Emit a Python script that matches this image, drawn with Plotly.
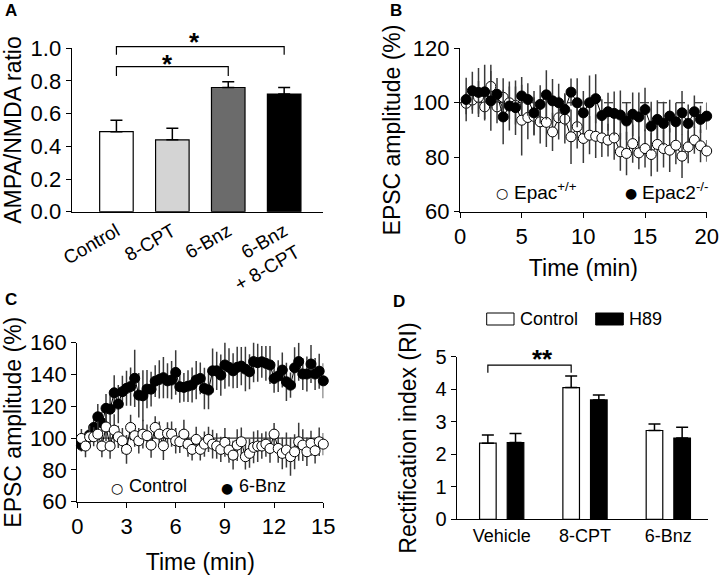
import plotly.graph_objects as go

FONT = "Liberation Sans, Arial, Helvetica, sans-serif"
GLYPH_FONT = "DejaVu Sans, Liberation Sans, sans-serif"

# ---------------- Panel A data ----------------
a_groups = ["Control", "8-CPT", "6-Bnz", "6-Bnz<br>+ 8-CPT"]
a_ratio = [0.49, 0.44, 0.76, 0.72]
a_sem = [0.07, 0.07, 0.035, 0.04]
a_colors = ["#ffffff", "#d4d4d4", "#6b6b6b", "#000000"]
a_yticks = [0.0, 0.2, 0.4, 0.6, 0.8, 1.0]

# ---------------- Panel B data ----------------
b_time = [0.5, 1.0, 1.5, 2.0, 2.5, 3.0, 3.5, 4.0, 4.5, 5.0,
          5.5, 6.0, 6.5, 7.0, 7.5, 8.0, 8.5, 9.0, 9.5, 10.0,
          10.5, 11.0, 11.5, 12.0, 12.5, 13.0, 13.5, 14.0, 14.5, 15.0,
          15.5, 16.0, 16.5, 17.0, 17.5, 18.0, 18.5, 19.0, 19.5, 20.0]
b_wt = [99.8, 101.0, 102.0, 98.5, 106.0, 98.5, 102.0, 100.0, 99.0, 93.6,
        94.6, 95.0, 93.0, 92.8, 89.3, 94.5, 94.0, 87.5, 91.2, 86.9,
        88.1, 87.7, 87.1, 86.3, 87.1, 82.0, 81.4, 85.0, 81.6, 83.2,
        81.0, 84.7, 83.2, 82.6, 84.4, 80.4, 83.8, 86.3, 84.2, 82.3]
b_wt_sem = [4, 5, 6, 5, 8, 6, 7, 6, 7, 13,
            8, 7, 8, 9, 7, 8, 9, 10, 8, 9,
            7, 8, 7, 6, 8, 7, 8, 7, 6, 7,
            8, 10, 7, 8, 7, 8, 6, 5, 6, 4]
b_ko = [101.2, 104.4, 103.8, 104.0, 100.7, 103.1, 94.8, 98.8, 98.2, 102.5,
        101.2, 96.3, 99.4, 102.9, 100.7, 100.0, 97.5, 103.9, 100.0, 96.3,
        100.0, 101.5, 95.3, 96.7, 96.1, 95.5, 93.3, 95.8, 94.8, 97.5,
        91.4, 93.9, 92.4, 95.1, 93.0, 96.3, 92.4, 96.7, 93.9, 95.1]
b_ko_sem = [8, 7, 9, 10, 11, 6, 10, 9, 10, 7,
            6, 8, 7, 9, 8, 7, 6, 5, 9, 8,
            10, 9, 6, 7, 8, 9, 7, 8, 9, 8,
            9, 7, 8, 6, 7, 8, 7, 6, 5, 5]
b_names = ["Epac<sup>+/+</sup>", "Epac2<sup>-/-</sup>"]

# ---------------- Panel C data ----------------
c_time = [0.25, 0.5, 0.75, 1.0, 1.25, 1.5, 1.75, 2.0, 2.25, 2.5,
          2.75, 3.0, 3.25, 3.5, 3.75, 4.0, 4.25, 4.5, 4.75, 5.0,
          5.25, 5.5, 5.75, 6.0, 6.25, 6.5, 6.75, 7.0, 7.25, 7.5,
          7.75, 8.0, 8.25, 8.5, 8.75, 9.0, 9.25, 9.5, 9.75, 10.0,
          10.25, 10.5, 10.75, 11.0, 11.25, 11.5, 11.75, 12.0, 12.25, 12.5,
          12.75, 13.0, 13.25, 13.5, 13.75, 14.0, 14.25, 14.5, 14.75, 15.0]
c_ctrl = [99.8, 95.0, 100.8, 100.8, 102.5, 95.0, 107.0, 95.0, 105.0, 100.8,
          98.3, 92.9, 106.7, 101.5, 98.3, 102.5, 101.5, 95.6, 106.7, 102.5,
          95.2, 102.9, 102.5, 98.3, 97.7, 102.5, 96.2, 92.9, 99.2, 92.9,
          96.2, 99.2, 96.2, 95.0, 92.9, 97.3, 92.5, 89.3, 95.6, 97.7,
          88.3, 90.4, 94.2, 95.0, 95.0, 96.2, 93.5, 102.5, 93.5, 90.4,
          92.5, 88.3, 91.4, 97.7, 95.6, 91.4, 96.7, 92.1, 97.7, 96.2]
c_ctrl_sem = [6, 7, 7, 6, 8, 7, 9, 8, 10, 7,
              8, 9, 8, 7, 8, 9, 7, 8, 7, 8,
              9, 7, 8, 8, 7, 9, 8, 7, 8, 7,
              8, 8, 9, 8, 8, 9, 8, 9, 10, 9,
              8, 9, 10, 10, 8, 8, 9, 7, 9, 10,
              11, 12, 11, 12, 10, 9, 8, 8, 9, 7]
c_bnz = [95.5, 99.0, 102.0, 106.7, 113.4, 109.6, 118.7, 118.2, 128.5, 121.4,
         129.2, 131.3, 132.4, 137.6, 127.0, 126.6, 130.8, 130.8, 135.8, 136.9,
         138.0, 136.0, 136.5, 141.3, 132.3, 131.9, 132.7, 133.4, 136.5, 137.5,
         131.2, 130.2, 142.3, 142.3, 139.6, 146.0, 144.5, 142.3, 144.5, 145.3,
         143.4, 141.7, 148.1, 147.4, 148.0, 147.0, 146.0, 137.5, 139.0, 142.8,
         135.4, 133.3, 144.2, 148.1, 140.3, 140.3, 146.6, 140.3, 142.1, 136.0]
c_bnz_sem = [4, 5, 6, 7, 8, 7, 9, 10, 11, 12,
             10, 11, 12, 18, 14, 16, 12, 11, 10, 12,
             13, 11, 12, 14, 10, 9, 10, 11, 12, 10,
             13, 12, 14, 12, 13, 15, 12, 11, 13, 12,
             14, 11, 13, 12, 10, 11, 12, 9, 10, 11,
             12, 8, 13, 12, 10, 11, 12, 10, 11, 11]
c_names = ["Control", "6-Bnz"]

# ---------------- Panel D data ----------------
d_groups = ["Vehicle", "8-CPT", "6-Bnz"]
d_ctrl = [2.34, 4.05, 2.73]
d_ctrl_sem = [0.25, 0.36, 0.20]
d_h89 = [2.36, 3.67, 2.50]
d_h89_sem = [0.28, 0.15, 0.33]
d_names = ["Control", "H89"]

# ---------------- geometry (px of a 720 x 575 page) ----------------
W, H = 720, 575
def dx(a, b):
    return [a / W, b / W]
def dy(top, bottom):
    return [1 - bottom / H, 1 - top / H]
def px(x):
    return x / W
def py(y):
    return 1 - y / H

A_XR = [-0.8, 3.7]
A_YR = [0.0, 1.0]
D_XR = [-0.54, 2.48]
D_YR = [0.0, 5.0]
D_GAP, D_GROUPGAP = 0.336, 0.40
d_off = (1 - D_GAP) / 4  # centre offset of each bar inside a group

def frac(v, rng):
    return (v - rng[0]) / (rng[1] - rng[0])

fig = go.Figure()

# Panel A bars
fig.add_trace(go.Bar(
    x=list(range(len(a_groups))), y=a_ratio,
    marker=dict(color=a_colors, line=dict(color="black", width=1.2)),
    error_y=dict(type="data", symmetric=False, array=a_sem,
                 arrayminus=[0] * len(a_sem), color="black",
                 thickness=1.5, width=6),
    xaxis="x", yaxis="y", showlegend=False, width=0.6))

# Panel B
for vals, sem, fill, name in [(b_wt, b_wt_sem, "white", b_names[0]),
                              (b_ko, b_ko_sem, "black", b_names[1])]:
    fig.add_trace(go.Scatter(
        x=b_time, y=vals, mode="lines+markers", name=name,
        line=dict(color="black", width=1),
        marker=dict(size=10, color=fill, line=dict(color="black", width=1)),
        error_y=dict(type="data", array=sem, color="#3a3a3a",
                     thickness=1.5, width=0),
        xaxis="x2", yaxis="y2", showlegend=False, cliponaxis=False))

# Panel C
for vals, sem, fill, name in [(c_bnz, c_bnz_sem, "black", c_names[1]),
                              (c_ctrl, c_ctrl_sem, "white", c_names[0])]:
    fig.add_trace(go.Scatter(
        x=c_time, y=vals, mode="lines+markers", name=name,
        line=dict(color="black", width=1),
        marker=dict(size=10, color=fill, line=dict(color="black", width=1)),
        error_y=dict(type="data", array=sem, color="#3a3a3a",
                     thickness=1.5, width=0),
        xaxis="x3", yaxis="y3", showlegend=False, cliponaxis=False))

# Panel D
for vals, sem, fill, name in [(d_ctrl, d_ctrl_sem, "white", d_names[0]),
                              (d_h89, d_h89_sem, "black", d_names[1])]:
    fig.add_trace(go.Bar(
        x=d_groups, y=vals, name=name,
        marker=dict(color=fill, line=dict(color="black", width=1.2)),
        error_y=dict(type="data", symmetric=False, array=sem,
                     arrayminus=[0] * len(sem), color="black",
                     thickness=1.5, width=6),
        xaxis="x4", yaxis="y4", showlegend=False))

tickfont = dict(family=FONT, size=22, color="black")
titlefont = dict(family=FONT, size=23, color="black")
axis_common = dict(showline=True, linecolor="black", linewidth=1.3,
                   showgrid=False, zeroline=False, automargin=False,
                   tickcolor="black", tickwidth=1.3)

fig.update_layout(
    width=W, height=H, margin=dict(l=0, r=0, t=0, b=0), autosize=False,
    paper_bgcolor="white", plot_bgcolor="white", showlegend=False,
    font=dict(family=FONT, color="black"),
    barmode="group", bargap=D_GAP, bargroupgap=D_GROUPGAP,
    xaxis=dict(domain=dx(71.7, 323.3), anchor="y", range=A_XR,
               tickvals=list(range(len(a_groups))), ticktext=a_groups,
               tickangle=-30, ticks="",
               tickfont=dict(family=FONT, size=19, color="black"), **axis_common),
    yaxis=dict(domain=dy(48.3, 211.7), anchor="x", range=A_YR,
               tickvals=a_yticks, tickformat=".1f", ticks="outside", ticklen=5,
               tickfont=tickfont,
               title=dict(text="AMPA/NMDA ratio", font=titlefont, standoff=14),
               **axis_common),
    xaxis2=dict(domain=dx(460, 706.7), anchor="y2", range=[0, 20],
                tickvals=[0, 5, 10, 15, 20], ticks="outside", ticklen=5,
                tickfont=tickfont,
                title=dict(text="Time (min)", font=titlefont, standoff=11),
                **axis_common),
    yaxis2=dict(domain=dy(48.3, 211.7), anchor="x2", range=[60, 120],
                tickvals=[60, 80, 100, 120], ticks="outside", ticklen=5,
                tickfont=tickfont,
                title=dict(text="EPSC amplitude (%)", font=titlefont, standoff=5),
                **axis_common),
    xaxis3=dict(domain=dx(77.3, 323.3), anchor="y3", range=[0, 15],
                tickvals=[0, 3, 6, 9, 12, 15], ticks="outside", ticklen=5,
                tickfont=tickfont,
                title=dict(text="Time (min)", font=titlefont, standoff=18),
                **axis_common),
    yaxis3=dict(domain=dy(342.7, 501.7), anchor="x3", range=[60, 160],
                tickvals=[60, 80, 100, 120, 140, 160], ticks="outside", ticklen=5,
                tickfont=tickfont,
                title=dict(text="EPSC amplitude (%)", font=titlefont, standoff=11),
                **axis_common),
    xaxis4=dict(domain=dx(456.7, 708.3), anchor="y4", range=D_XR,
                type="category", ticks="",
                tickfont=dict(family=FONT, size=18, color="black"), **axis_common),
    yaxis4=dict(domain=dy(356.7, 519.3), anchor="x4", range=D_YR,
                tickvals=[0, 1, 2, 3, 4, 5], ticks="outside", ticklen=5,
                tickfont=dict(family=FONT, size=20, color="black"),
                title=dict(text="Rectification index (RI)", font=titlefont, standoff=12),
                **axis_common),
)

shapes = []
annotations = []

# Panel A significance brackets (axis-domain units derived from the axis ranges)
for i0, i1, top, foot, sx, sy in [(0, 2, 0.888, 0.83, 0.92, 1.005),
                                  (0, 3, 1.01, 0.96, 1.40, 1.14)]:
    x0, x1 = frac(i0, A_XR), frac(i1, A_XR)
    y0, y1 = frac(foot, A_YR), frac(top, A_YR)
    shapes.append(dict(type="path", xref="x domain", yref="y domain",
                       path=f"M{x0},{y0} L{x0},{y1} L{x1},{y1} L{x1},{y0}",
                       line=dict(color="black", width=1.2)))
    annotations.append(dict(x=frac(sx, A_XR), y=frac(sy, A_YR),
                            xref="x domain", yref="y domain", text="<b>*</b>",
                            showarrow=False, font=dict(family=FONT, size=26, color="black")))

# Panel D significance bracket (Vehicle control vs 8-CPT control)
dv0 = frac(0 - d_off, D_XR)
dv1 = frac(1 - d_off, D_XR)
dfoot, dtop = frac(4.51, D_YR), frac(4.74, D_YR)
shapes.append(dict(type="path", xref="x4 domain", yref="y4 domain",
                   path=f"M{dv0},{dfoot} L{dv0},{dtop} L{dv1},{dtop} L{dv1},{dfoot}",
                   line=dict(color="black", width=1.2)))
annotations.append(dict(x=(dv0 + dv1) / 2, y=frac(5.45, D_YR),
                        xref="x4 domain", yref="y4 domain", text="<b>**</b>",
                        showarrow=False, font=dict(family=FONT, size=26, color="black")))

# reference lines at 100 %
shapes.append(dict(type="line", xref="x2 domain", yref="y2", x0=0, x1=1, y0=100, y1=100,
                   line=dict(color="black", width=1, dash="dash"), layer="below"))
shapes.append(dict(type="line", xref="x3 domain", yref="y3", x0=0, x1=1, y0=100, y1=100,
                   line=dict(color="black", width=1), layer="below"))

# Panel B / C legends: symbol glyph + label
for glyph, gx, label, tx, ty, size in [
        ("\u25cb", 501.7, b_names[0], 511.7, 192.3, 19),
        ("\u25cf", 630.7, b_names[1], 640.0, 192.3, 19),
        ("\u25cb", 116.7, c_names[0], 126.7, 486.7, 18),
        ("\u25cf", 226.7, c_names[1], 236.7, 486.7, 18)]:
    annotations.append(dict(x=px(gx), y=py(ty + 1), xref="paper", yref="paper",
                            xanchor="center", yanchor="middle", text=glyph, showarrow=False,
                            font=dict(family=GLYPH_FONT, size=14, color="black")))
    annotations.append(dict(x=px(tx), y=py(ty - 1), xref="paper", yref="paper",
                            xanchor="left", yanchor="middle", text=label, showarrow=False,
                            font=dict(family=FONT, size=size, color="black")))

# Panel D legend (wide swatches)
for (x0, x1), fill, name, tx in [((486.7, 514), "white", d_names[0], 518),
                                  ((595.7, 623.3), "black", d_names[1], 626.7)]:
    shapes.append(dict(type="rect", xref="paper", yref="paper",
                       x0=px(x0), x1=px(x1), y0=py(325), y1=py(313),
                       fillcolor=fill, line=dict(color="black", width=1)))
    annotations.append(dict(x=px(tx), y=py(319), xref="paper", yref="paper",
                            xanchor="left", yanchor="middle", text=name, showarrow=False,
                            font=dict(family=FONT, size=18, color="black")))

# panel letters
for letter, lx, ly in [("A", 3, 11), ("B", 388, 11), ("C", 3, 299), ("D", 391, 301)]:
    annotations.append(dict(x=px(lx), y=py(ly), xref="paper", yref="paper",
                            xanchor="left", yanchor="middle", text=f"<b>{letter}</b>",
                            showarrow=False, font=dict(family=FONT, size=17, color="black")))

fig.update_layout(shapes=shapes, annotations=annotations)
fig.write_html("out.html", config={"responsive": False, "displayModeBar": False},
               post_script="document.body.style.margin='0px';"
                           "document.body.style.overflow='hidden';")
